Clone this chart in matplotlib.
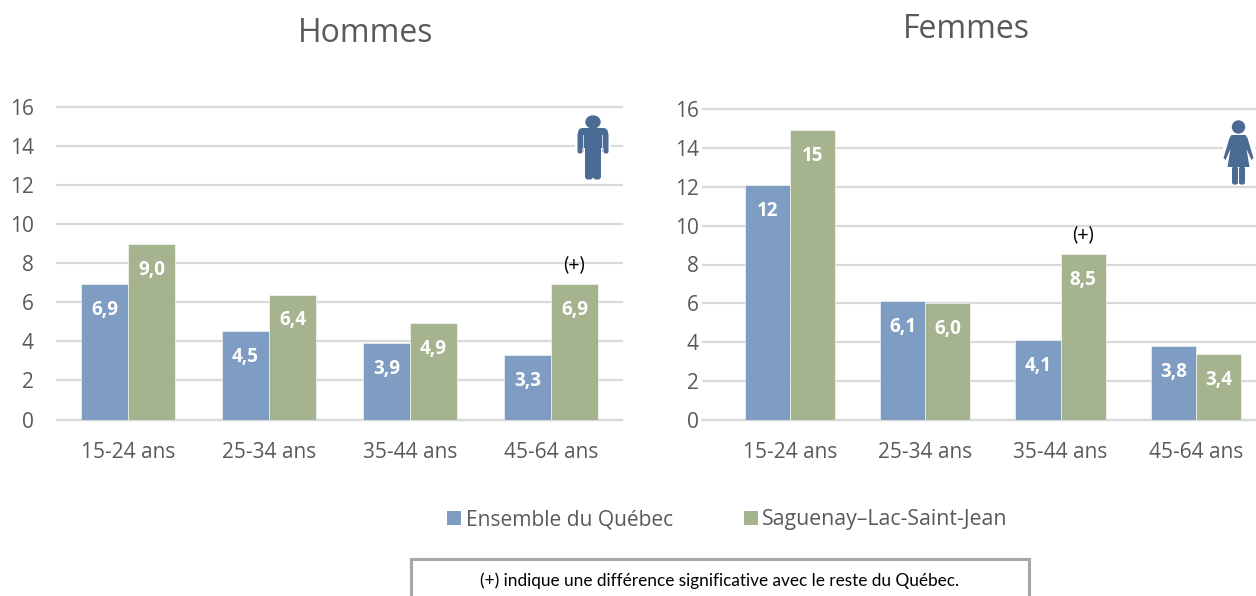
import numpy as np
import matplotlib
matplotlib.use("Agg")
import matplotlib.pyplot as plt
from matplotlib.patches import Rectangle, FancyBboxPatch, Ellipse, Polygon

W, H = 1256, 596

categories = ["15-24 ans", "25-34 ans", "35-44 ans", "45-64 ans"]
series_names = ["Ensemble du Québec", "Saguenay–Lac-Saint-Jean"]

hommes_quebec = [6.95, 4.55, 3.9, 3.3]
hommes_slsj = [9.0, 6.4, 4.95, 6.95]
hommes_quebec_labels = ["6,9", "4,5", "3,9", "3,3"]
hommes_slsj_labels = ["9,0", "6,4", "4,9", "6,9"]
hommes_signif = [False, False, False, True]

femmes_quebec = [12.1, 6.1, 4.1, 3.8]
femmes_slsj = [14.9, 6.0, 8.55, 3.4]
femmes_quebec_labels = ["12", "6,1", "4,1", "3,8"]
femmes_slsj_labels = ["15", "6,0", "8,5", "3,4"]
femmes_signif = [False, False, True, False]

BLUE = "#7f9dc2"
GREEN = "#a5b48f"
GRID = "#d9d9d9"
TEXT = "#595959"
ICON = "#4a6b93"
FONT = "Open Sans"
PX = 72 / 100  # one pixel in points


def make_axes(fig, left, right, top, bottom):
    return fig.add_axes([left / W, 1 - bottom / H, (right - left) / W, (bottom - top) / H])


def draw_label(ax, x, y, text):
    ax.annotate(text, (x, y), xytext=(0, -26 * PX), textcoords="offset points", color="white",
                fontsize=13.5, fontweight="bold", family=FONT, ha="center", va="center", zorder=4)


def draw_panel(ax, vals_a, vals_b, labels_a, labels_b, signif, xlim, ypad):
    x = np.arange(len(categories))
    width = 1 / 3
    ax.bar(x - width / 2, vals_a, width, color=BLUE, edgecolor="white", linewidth=0.4, zorder=3)
    ax.bar(x + width / 2, vals_b, width, color=GREEN, edgecolor="white", linewidth=0.4, zorder=3)
    ax.set_xlim(*xlim)
    ax.set_ylim(0, 16)
    ax.set_yticks(range(0, 17, 2))
    ax.set_xticks(x, categories)
    ax.grid(axis="y", color=GRID, linewidth=1.6, zorder=0, clip_on=False)
    ax.tick_params(length=0, labelsize=15, labelcolor=TEXT)
    ax.tick_params(axis="x", pad=16)
    ax.tick_params(axis="y", pad=ypad)
    for lab in ax.get_xticklabels() + ax.get_yticklabels():
        lab.set_family(FONT)
    for name in ["top", "left", "right"]:
        ax.spines[name].set_visible(False)
    ax.spines["bottom"].set_color(GRID)
    ax.spines["bottom"].set_linewidth(1.6)
    for i in x:
        draw_label(ax, i - width / 2, vals_a[i], labels_a[i])
        draw_label(ax, i + width / 2, vals_b[i], labels_b[i])
        if signif[i]:
            ax.annotate("(+)", (i + width / 2, vals_b[i]), xytext=(0, 20 * PX), textcoords="offset points",
                        color="black", fontsize=14, family="Lato", ha="center", va="center", zorder=4)


def draw_man(ov, cx, top):
    ov.add_patch(Rectangle((cx - 18, top + 20), 36, 18, facecolor="white", edgecolor="none", zorder=5))
    ov.add_patch(Ellipse((cx, top + 6), 14, 12, color=ICON, zorder=6))
    ov.add_patch(FancyBboxPatch((cx - 12, top + 15), 24, 14, boxstyle="round,pad=3,rounding_size=5",
                                color=ICON, zorder=6, linewidth=0))
    ov.add_patch(FancyBboxPatch((cx - 15, top + 17), 4, 20, boxstyle="round,pad=0.5,rounding_size=2",
                                color=ICON, zorder=6, linewidth=0))
    ov.add_patch(FancyBboxPatch((cx + 11, top + 17), 4, 20, boxstyle="round,pad=0.5,rounding_size=2",
                                color=ICON, zorder=6, linewidth=0))
    ov.add_patch(FancyBboxPatch((cx - 7.5, top + 28), 7, 35, boxstyle="round,pad=0.5,rounding_size=3",
                                color=ICON, zorder=6, linewidth=0))
    ov.add_patch(FancyBboxPatch((cx + 0.5, top + 28), 7, 35, boxstyle="round,pad=0.5,rounding_size=3",
                                color=ICON, zorder=6, linewidth=0))
    ov.add_patch(Rectangle((cx - 10.2, top + 19), 0.9, 17, color="#c9d3e0", zorder=7, linewidth=0))
    ov.add_patch(Rectangle((cx + 9.3, top + 19), 0.9, 17, color="#c9d3e0", zorder=7, linewidth=0))


def draw_woman(ov, cx, top):
    ov.add_patch(Rectangle((cx - 16, top + 14), 32, 32, facecolor="white", edgecolor="none", zorder=5))
    ov.add_patch(Ellipse((cx, top + 6), 12, 12, color=ICON, zorder=6))
    body = [(cx - 7, top + 14), (cx + 7, top + 14), (cx + 9, top + 17), (cx + 15, top + 37),
            (cx + 13, top + 39), (cx + 8, top + 28), (cx + 11, top + 46), (cx - 11, top + 46),
            (cx - 8, top + 28), (cx - 13, top + 39), (cx - 15, top + 37), (cx - 9, top + 17)]
    ov.add_patch(Polygon(body, closed=True, color=ICON, zorder=6, linewidth=0))
    ov.add_patch(FancyBboxPatch((cx - 6, top + 46), 5, 17, boxstyle="round,pad=0.5,rounding_size=2",
                                color=ICON, zorder=6, linewidth=0))
    ov.add_patch(FancyBboxPatch((cx + 1, top + 46), 5, 17, boxstyle="round,pad=0.5,rounding_size=2",
                                color=ICON, zorder=6, linewidth=0))


fig = plt.figure(figsize=(W / 100, H / 100), dpi=100, facecolor="white")

ax1 = make_axes(fig, 57.5, 621.5, 107, 419.5)
draw_panel(ax1, hommes_quebec, hommes_slsj, hommes_quebec_labels, hommes_slsj_labels,
           hommes_signif, (-0.5, 3.5), 17)

# the right chart runs off the edge of the picture
ax2 = make_axes(fig, 703, 1256, 109, 420)
draw_panel(ax2, femmes_quebec, femmes_slsj, femmes_quebec_labels, femmes_slsj_labels,
           femmes_signif, ((703 - 789.7) / 135.4, (1256 - 789.7) / 135.4), 3)

ov = fig.add_axes([0, 0, 1, 1], zorder=10)
ov.set_xlim(0, W)
ov.set_ylim(H, 0)
ov.axis("off")
ov.patch.set_alpha(0)

ov.text(366, 34, "Hommes", fontsize=23, color=TEXT, family=FONT, ha="center", va="center")
ov.text(966, 30, "Femmes", fontsize=23, color=TEXT, family=FONT, ha="center", va="center")

draw_man(ov, 593, 116)
draw_woman(ov, 1238.5, 121)

ov.add_patch(Rectangle((447, 511), 14, 14, color=BLUE, linewidth=0))
ov.text(466, 520, series_names[0], fontsize=15.1, color=TEXT, family=FONT, va="center")
ov.add_patch(Rectangle((744, 511), 14, 14, color=GREEN, linewidth=0))
ov.text(762, 520, series_names[1], fontsize=15.3, color=TEXT, family=FONT, va="center")

ov.add_patch(Rectangle((410.5, 559), 618, 60, facecolor="white", edgecolor="#a6a6a6", linewidth=2.2))
ov.text(720, 581, "(+) indique une différence significative avec le reste du Québec.",
        fontsize=12.4, color="black", family="Lato", ha="center", va="center")

fig.savefig("out.png", dpi=100)
